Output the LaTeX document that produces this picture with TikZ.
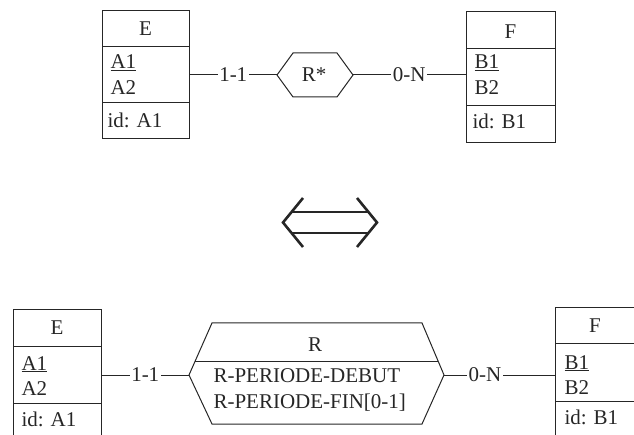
\documentclass[tikz,border=0pt]{standalone}
\usepackage{fontspec}
\setmainfont{Liberation Serif}
\usetikzlibrary{positioning,calc}

\begin{document}
\begin{tikzpicture}[x=1pt, y=-1pt, line width=1pt, black!85,
    font=\fontsize{21}{25}\selectfont,
    ent/.style={draw, inner sep=0pt},
    att/.style={inner sep=0pt, anchor=base west},
    card/.style={fill=white, inner sep=1.5pt}]
  \useasboundingbox (0,0) rectangle (634,435);
  \clip (0,0) rectangle (634,435);

  % upper schema
  \node[ent, minimum width=87pt, minimum height=128pt] (E) at (145.5,75) {};
  \draw (102,47) -- (189,47);
  \draw (102,103) -- (189,103);
  \node[inner sep=0pt] (E-name) at (145.5,29) {E};
  \node[att] (E-a1) at (110,69) {\underline{A1}};
  \node[att] (E-a2) at (110,95) {A2};
  \node[att] (E-id) at (107,128) {id: A1};

  \node[ent, minimum width=89pt, minimum height=131pt] (F) at (510.5,77.5) {};
  \draw (466,49) -- (555,49);
  \draw (466,106) -- (555,106);
  \node[inner sep=0pt] (F-name) at (510.5,32) {F};
  \node[att] (F-b1) at (474,69) {\underline{B1}};
  \node[att] (F-b2) at (474,95) {B2};
  \node[att] (F-id) at (472,129) {id: B1};

  \coordinate (Rs-w) at (277,75);
  \coordinate (Rs-e) at (353,75);
  \draw (Rs-w) -- (293,53) -- (337,53) -- (Rs-e) -- (337,97) -- (293,97) -- cycle;
  \node[inner sep=0pt] (Rs) at (314,75) {R*};

  \draw (E.east |- Rs-w) -- node[card] {1-1} (Rs-w);
  \draw (Rs-e) -- node[card] {0-N} (Rs-e -| F.west);

  % equivalence
  \draw[line width=2.6pt] (291,212) -- (369,212);
  \draw[line width=2.6pt] (291,233) -- (369,233);
  \draw[line width=2.6pt] (303,198) -- (283,222.5) -- (303,247);
  \draw[line width=2.6pt] (357,198) -- (377,222.5) -- (357,247);

  % lower schema
  \node[ent, minimum width=88pt, minimum height=130pt] (E2) at (57,375) {};
  \draw (13,346) -- (101,346);
  \draw (13,403) -- (101,403);
  \node[inner sep=0pt] (E2-name) at (57,328) {E};
  \node[att] (E2-a1) at (21,370) {\underline{A1}};
  \node[att] (E2-a2) at (21,395) {A2};
  \node[att] (E2-id) at (21,426) {id: A1};

  \node[ent, minimum width=81pt, minimum height=130pt] (F2) at (595.5,373) {};
  \draw (555,343) -- (636,343);
  \draw (555,401) -- (636,401);
  \node[inner sep=0pt] (F2-name) at (595,326) {F};
  \node[att] (F2-b1) at (564,369) {\underline{B1}};
  \node[att] (F2-b2) at (564,394) {B2};
  \node[att] (F2-id) at (564,424) {id: B1};

  \coordinate (R-w) at (189,375);
  \coordinate (R-e) at (444,375);
  \draw (R-w) -- (212,323) -- (422,323) -- (R-e) -- (422,424) -- (212,424) -- cycle;
  \draw (195.2,361) -- (438.1,361);
  \node[inner sep=0pt] (R) at (315,345) {R};
  \node[att] (R-deb) at (213,382) {R-PERIODE-DEBUT};
  \node[att] (R-fin) at (213,408) {R-PERIODE-FIN[0-1]};

  \draw (E2.east |- R-w) -- node[card] {1-1} (R-w);
  \draw (R-e) -- node[card, pos=0.37] {0-N} (R-e -| F2.west);
\end{tikzpicture}
\end{document}
